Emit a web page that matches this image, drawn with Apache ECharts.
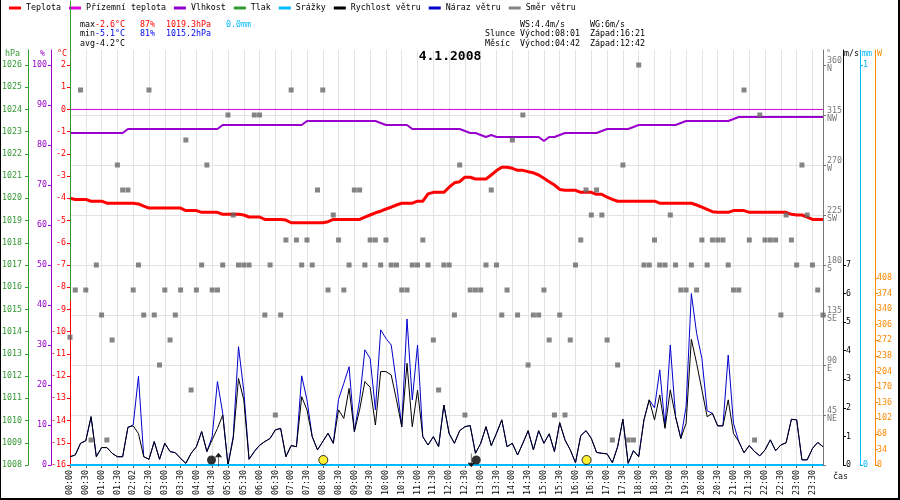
<!DOCTYPE html>
<html>
<head>
<meta charset="utf-8">
<script src="https://cdn.jsdelivr.net/npm/echarts@6/dist/echarts.min.js"></script>
<style>
html,body{margin:0;padding:0;background:#fff;}
#wrap{position:relative;width:900px;height:500px;}
#chart{width:900px;height:500px;}
.edge{position:absolute;background:#000;}
</style>
</head>
<body>
<div id="wrap">
  <div id="chart"></div>
  <div class="edge" style="left:0;top:0;width:1px;height:500px"></div>
  <div class="edge" style="right:0;top:0;width:2px;height:500px"></div>
  <div class="edge" style="left:0;bottom:0;width:900px;height:2px"></div>
</div>
<script>
// 10 minute samples, 00:00 .. 23:50
const STEP = 10;

const xLabels = ['00:00','00:30','01:00','01:30','02:02','02:30','03:00','03:30','04:00','04:30',
  '05:00','05:30','06:00','06:30','07:00','07:30','08:00','08:30','09:00','09:30',
  '10:00','10:30','11:00','11:30','12:00','12:30','13:00','13:30','14:00','14:30',
  '15:00','15:30','16:00','16:30','17:00','17:30','18:00','18:30','19:00','19:30',
  '20:00','20:30','21:00','21:30','22:00','22:30','23:00','23:30'];

const teplota = [
  -4.0,-4.05,-4.05,-4.05,-4.13,-4.13,-4.13,-4.22,-4.22,-4.22,
  -4.22,-4.22,-4.22,-4.25,-4.35,-4.44,-4.44,-4.44,-4.44,-4.44,
  -4.44,-4.44,-4.55,-4.55,-4.55,-4.63,-4.63,-4.63,-4.63,-4.72,
  -4.72,-4.72,-4.72,-4.75,-4.84,-4.84,-4.84,-4.95,-4.95,-4.95,
  -4.95,-4.98,-5.1,-5.1,-5.1,-5.1,-5.1,-5.1,-5.1,-5.05,
  -4.95,-4.95,-4.95,-4.95,-4.95,-4.95,-4.85,-4.75,-4.65,-4.58,
  -4.48,-4.4,-4.3,-4.22,-4.22,-4.22,-4.13,-4.13,-3.8,-3.73,
  -3.73,-3.73,-3.5,-3.3,-3.25,-3.05,-3.05,-3.13,-3.13,-3.13,
  -2.95,-2.75,-2.6,-2.6,-2.65,-2.74,-2.74,-2.8,-2.85,-2.95,
  -3.1,-3.25,-3.4,-3.6,-3.64,-3.64,-3.64,-3.73,-3.73,-3.73,
  -3.82,-3.82,-3.95,-4.05,-4.13,-4.13,-4.13,-4.13,-4.13,-4.13,
  -4.13,-4.13,-4.22,-4.22,-4.22,-4.22,-4.22,-4.22,-4.22,-4.3,
  -4.4,-4.5,-4.6,-4.63,-4.63,-4.63,-4.55,-4.55,-4.55,-4.63,
  -4.63,-4.63,-4.63,-4.63,-4.63,-4.63,-4.63,-4.72,-4.75,-4.75,
  -4.85,-4.95,-4.95,-4.95];

const vlhkost = [
  83,83,83,83,83,83,83,83,83,83,
  83,84,84,84,84,84,84,84,84,84,
  84,84,84,84,84,84,84,84,84,85,
  85,85,85,85,85,85,85,85,85,85,
  85,85,85,85,85,86,86,86,86,86,
  86,86,86,86,86,86,86,86,86,85.5,
  85,85,85,85,85,84,84,84,84,84,
  84,84,84,84,84,83.5,83,83,82.5,82,
  82.5,82,82,82,82,82,82,82,82,82,
  81,82,82,82.5,83,83,83,83,83,83,
  83,83.5,84,84,84,84,84,84.5,85,85,
  85,85,85,85,85,85,85.5,86,86,86,
  86,86,86,86,86,86,86.5,87,87,87,
  87,87,87,87,87,87,87,87,87,87,
  87,87,87,87];

const rychlost = [
  0.29,0.35,0.76,0.85,1.69,0.29,0.61,0.61,0.41,0.29,
  0.29,1.32,1.37,1.1,0.29,0.2,0.82,0.2,0.76,0.47,
  0.43,0.23,0.06,0.41,0.64,1.17,0.47,0.88,1.28,1.75,
  0,0.93,3.03,2.28,0.2,0.47,0.69,0.82,0.93,1.23,
  1.28,0.29,0.68,0.64,2.39,1.93,0.99,0.53,0.82,1.11,
  0.76,1.93,1.63,2.68,1.17,1.93,2.92,2.72,1.4,3.27,
  3.27,3.15,2.28,1.34,3.56,1.34,2.62,0.99,0.7,0.99,
  0.64,2.1,1.1,0.76,1.2,1.34,1.38,0.41,0.76,1.34,
  0.68,1.11,1.58,0.64,0.76,0.35,0.76,1.2,0.53,1.2,
  0.76,1.09,0.47,1.48,0.88,0.53,0.08,1.03,1.2,0.93,
  0.44,0.41,0.39,0.08,0.64,1.6,0.06,0.5,0.29,1.58,
  2.28,1.58,2.45,1.28,2.63,1.69,0.93,1.46,4.4,3.56,
  2.63,1.69,1.81,1.37,1.37,2.28,1.11,0.82,0.43,0.68,
  0.47,0.32,0.53,0.88,0.5,0.7,0.78,1.6,1.58,0.18,
  0.18,0.58,0.79,0.64];

const naraz = [
  0.29,0.35,0.76,0.85,1.69,0.29,0.61,0.61,0.41,0.29,
  0.29,1.32,1.4,3.1,0.29,0.2,0.82,0.2,0.76,0.47,
  0.43,0.23,0.06,0.41,0.64,1.17,0.47,0.99,2.92,1.81,
  0,1.0,4.14,2.6,0.2,0.47,0.69,0.82,0.93,1.23,
  1.28,0.29,0.68,0.64,3.12,2.28,0.99,0.53,0.82,1.11,
  0.76,2.3,2.86,3.44,1.17,2.28,4.03,3.73,1.93,4.73,
  4.43,4.2,2.86,1.34,5.11,2.28,4.2,0.99,0.7,0.99,
  0.64,2.1,1.1,0.76,1.2,1.34,1.38,0.41,0.76,1.34,
  0.68,1.11,1.58,0.64,0.76,0.35,0.76,1.2,0.53,1.2,
  0.76,1.09,0.47,1.48,0.88,0.53,0.08,1.03,1.2,0.93,
  0.44,0.41,0.39,0.08,0.64,1.6,0.06,0.5,0.29,1.58,
  2.28,2.0,3.33,1.34,4.2,1.69,0.93,2.04,6.0,4.61,
  3.73,1.9,1.81,1.37,1.37,3.85,1.46,0.82,0.43,0.68,
  0.47,0.32,0.53,0.88,0.5,0.7,0.78,1.6,1.58,0.18,
  0.18,0.58,0.79,0.64];

const smer = [
  115,157.5,337.5,157.5,22.5,180,135,22.5,112.5,270,
  247.5,247.5,157.5,180,135,337.5,135,90,157.5,112.5,
  135,157.5,292.5,67.5,157.5,180,270,157.5,157.5,180,
  315,225,180,180,180,315,315,135,180,45,
  135,202.5,337.5,202.5,180,202.5,180,247.5,337.5,157.5,
  225,202.5,157.5,180,247.5,247.5,180,202.5,202.5,180,
  202.5,180,180,157.5,157.5,180,180,202.5,180,112.5,
  67.5,180,180,135,270,45,157.5,157.5,157.5,180,
  247.5,180,135,157.5,292.5,135,315,90,135,135,
  157.5,112.5,45,135,45,112.5,180,202.5,247.5,225,
  247.5,225,112.5,22.5,90,270,22.5,22.5,360,180,
  180,202.5,180,180,225,180,157.5,157.5,180,157.5,
  202.5,180,202.5,202.5,202.5,180,157.5,157.5,337.5,202.5,
  22.5,315,202.5,202.5,202.5,135,225,202.5,180,270,
  225,180,157.5,135];

// ground temperature, rain, pressure (pressure is drawn as a vertical stroke at the start)
const prizemniCas = [0, 1430];
const prizemni = [0, 0];
const srazkyCas = [0, 1430];
const srazky = [0, 0];
const tlakCas = [1, 1];
const tlak = [1015.4, 1028.9];

// sun / moon events in minutes
const slunceCas = [481, 981];
const mesicVychod = 282;
const mesicZapad = 762;

// axis ticks
const tempTicks = [-16,-15,-14,-13,-12,-11,-10,-9,-8,-7,-6,-5,-4,-3,-2,-1,0,1,2];
const humTicks = [0,10,20,30,40,50,60,70,80,90,100];
const pressTicks = [1008,1009,1010,1011,1012,1013,1014,1015,1016,1017,1018,1019,1020,1021,1022,1023,1024,1025,1026];
const dirTicks = [0,45,90,135,180,225,270,315,360];
const dirLabelTicks = [45,90,135,180,225,270,315,360];
const dirNames = {45:'NE',90:'E',135:'SE',180:'S',225:'SW',270:'W',315:'NW',360:'N'};
const windTicks = [0,1,2,3,4,5,6,7];
const rainTicks = [0,1];
const sunTicks = [0,34,68,102,136,170,204,238,272,306,340,374,408];

const statRows = [
  [['max','#000'],['-2.6°C','#ff0000'],['87%','#ff0000'],['1019.3hPa','#ff0000'],['0.0mm','#00bbff']],
  [['min','#000'],['-5.1°C','#0000ee'],['81%','#0000ee'],['1015.2hPa','#0000ee']],
  [['avg','#000'],['-4.2°C','#000']]
];
const statCols = [80, 95, 140, 166, 226];
const infoRows = [
  ['', 'WS:4.4m/s', 'WG:6m/s'],
  ['Slunce', 'Východ:08:01', 'Západ:16:21'],
  ['Měsíc', 'Východ:04:42', 'Západ:12:42']
];
const infoCols = [485, 520, 590];
const rowY = [24.5, 34, 43.5];

const FONT = 'DejaVu Sans Mono';
const FS = 8.3;

const pts = arr => arr.map((v, i) => [i * STEP, v]);
const pair = (xs, ys) => xs.map((x, i) => [x, ys[i]]);

const chart = echarts.init(document.getElementById('chart'), null, {renderer: 'canvas'});

function yAx(o) {
  return {
    type: 'value',
    position: o.position, offset: o.offset, min: o.min, max: o.max, name: o.name,
    axisLine: {show: true, onZero: false, lineStyle: {color: o.color, width: 1}},
    axisTick: {show: true, length: 3, inside: false, lineStyle: {color: o.color}, customValues: o.ticks},
    axisLabel: {color: o.color, fontFamily: FONT, fontSize: FS, margin: o.margin || 4,
      customValues: o.labels || o.ticks, hideOverlap: false, formatter: v => String(v)},
    splitLine: {show: false},
    nameLocation: 'end',
    nameGap: -4,
    nameMoveOverlap: false,
    nameTextStyle: {color: o.color, fontFamily: FONT, fontSize: FS,
      align: o.position === 'left' ? 'right' : 'left', verticalAlign: 'middle',
      padding: o.position === 'left' ? [0, o.namePad, 0, 0] : [0, 0, 0, o.namePad]}
  };
}

const dirAxis = yAx({position: 'right', offset: 0, min: 0, max: 373.5, color: '#777', ticks: dirTicks,
  labels: dirLabelTicks, name: '°', namePad: 3});
dirAxis.interval = 45;
dirAxis.splitLine = {show: true, showMaxLine: false, showMinLine: false, lineStyle: {color: '#e3e3e3', width: 1}};
dirAxis.axisLabel.formatter = v => v + '\n' + dirNames[v];
dirAxis.axisLabel.lineHeight = 8.5;
dirAxis.axisLabel.padding = [8.5, 0, 0, 0];
dirAxis.axisLabel.align = 'left';

const option = {
  animation: false,
  backgroundColor: '#fff',
  textStyle: {fontFamily: FONT},
  title: {
    text: '4.1.2008', left: 'center', top: 50, padding: 0,
    textStyle: {fontFamily: FONT, fontWeight: 'bold', fontSize: 13, color: '#000'}
  },
  legend: {
    left: 9, top: 4, padding: 0, itemWidth: 12, itemHeight: 3, itemGap: 8, icon: 'rect',
    selectedMode: false,
    textStyle: {fontFamily: FONT, fontSize: FS, color: '#000'},
    data: ['Teplota', 'Přízemní teplota', 'Vlhkost', 'Tlak', 'Srážky', 'Rychlost větru', 'Náraz větru', 'Směr větru']
  },
  grid: {left: 70, right: 77, top: 50, bottom: 35, containLabel: false, outerBoundsMode: 'none'},
  xAxis: {
    type: 'value', min: 0, max: 1430, interval: 30,
    axisLine: {show: true, onZero: false, lineStyle: {color: '#000'}},
    axisTick: {show: true, length: 3, lineStyle: {color: '#555'}},
    axisLabel: {rotate: 90, fontFamily: FONT, fontSize: FS, color: '#111', margin: 5, showMaxLabel: false,
      hideOverlap: false, formatter: v => xLabels[Math.round(v / 30)] || ''},
    splitLine: {show: true, showMaxLine: false, lineStyle: {color: '#e3e3e3', width: 1}},
    name: 'čas', nameLocation: 'end', nameGap: 10, nameMoveOverlap: false,
    nameTextStyle: {fontFamily: FONT, fontSize: FS, color: '#111', align: 'left', verticalAlign: 'top', padding: [8, 0, 0, 0]}
  },
  yAxis: [
    yAx({position: 'left', offset: 0, min: -16, max: 2.675, color: '#ff0000', ticks: tempTicks, name: '°C', namePad: 3}),
    yAx({position: 'left', offset: 19, min: 0, max: 103.75, color: '#9900cc', ticks: humTicks, name: '%', namePad: 6}),
    yAx({position: 'left', offset: 42, min: 1008, max: 1026.675, color: '#339933', ticks: pressTicks, name: 'hPa', namePad: 8, margin: 6}),
    dirAxis,
    yAx({position: 'right', offset: 20, min: 0, max: 14.525, color: '#000', ticks: windTicks, name: 'm/s', namePad: 1, margin: 3}),
    yAx({position: 'right', offset: 37, min: 0, max: 1.0375, color: '#00bbff', ticks: rainTicks, name: 'mm', namePad: 2, margin: 3}),
    yAx({position: 'right', offset: 52, min: 0, max: 905.45, color: '#ff8800', ticks: sunTicks, name: 'W', namePad: 2, margin: 2})
  ],
  graphic: [],
  series: [
    {name: 'Přízemní teplota', type: 'line', yAxisIndex: 0, data: pair(prizemniCas, prizemni),
      symbol: 'none', color: '#dd00dd', lineStyle: {width: 1}, z: 2},
    {name: 'Vlhkost', type: 'line', yAxisIndex: 1, data: pts(vlhkost),
      symbol: 'none', color: '#9900cc', lineStyle: {width: 2}, z: 3},
    {name: 'Teplota', type: 'line', yAxisIndex: 0, data: pts(teplota),
      symbol: 'none', color: '#ff0000', lineStyle: {width: 3}, z: 4},
    {name: 'Tlak', type: 'line', yAxisIndex: 2, data: pair(tlakCas, tlak), clip: false,
      symbol: 'none', color: '#339933', lineStyle: {width: 1}, z: 6},
    {name: 'Náraz větru', type: 'line', yAxisIndex: 4, data: pts(naraz),
      symbol: 'none', color: '#0000cc', lineStyle: {width: 1}, z: 5},
    {name: 'Rychlost větru', type: 'line', yAxisIndex: 4, data: pts(rychlost),
      symbol: 'none', color: '#000', lineStyle: {width: 1}, z: 6},
    {name: 'Směr větru', type: 'scatter', yAxisIndex: 3, data: pts(smer),
      symbol: 'rect', symbolSize: 5, color: '#666', z: 7},
    {name: 'Srážky', type: 'line', yAxisIndex: 5, data: pair(srazkyCas, srazky),
      symbol: 'none', color: '#00bbff', lineStyle: {width: 2}, z: 8},
    {name: 'slunce', type: 'scatter', yAxisIndex: 4, data: slunceCas.map(t => [t, 0]),
      symbol: 'circle', symbolSize: 9, symbolOffset: [0, -5],
      itemStyle: {color: '#ffee00', borderColor: '#000', borderWidth: 1}, z: 9},
    {name: 'mesic', type: 'scatter', yAxisIndex: 4,
      data: [
        {value: [mesicVychod, 0], symbolOffset: [-7, -5]},
        {value: [mesicZapad, 0], symbolOffset: [5, -5]}
      ],
      symbol: 'circle', symbolSize: 9, itemStyle: {color: '#000'}, z: 9},
    {name: 'sipky', type: 'scatter', yAxisIndex: 4,
      data: [
        {value: [mesicVychod, 0], symbol: 'path://M4,0 L4,14 M1,4 L4,0 L7,4'},
        {value: [mesicZapad, 0], symbol: 'path://M4,0 L4,14 M1,10 L4,14 L7,10'}
      ],
      symbolSize: [6, 13], symbolOffset: [0, -5],
      itemStyle: {color: '#000', borderColor: '#000', borderWidth: 1}, z: 9}
  ]
};

// header texts
statRows.forEach((row, r) => {
  row.forEach((cell, c) => {
    option.graphic.push({type: 'text', x: statCols[c], y: rowY[r],
      style: {text: cell[0], fill: cell[1], font: FS + 'px "' + FONT + '"', verticalAlign: 'middle'}});
  });
});
infoRows.forEach((row, r) => {
  row.forEach((txt, c) => {
    if (!txt) return;
    option.graphic.push({type: 'text', x: infoCols[c], y: rowY[r],
      style: {text: txt, fill: '#000', font: FS + 'px "' + FONT + '"', verticalAlign: 'middle'}});
  });
});

chart.setOption(option);
</script>
</body>
</html>
